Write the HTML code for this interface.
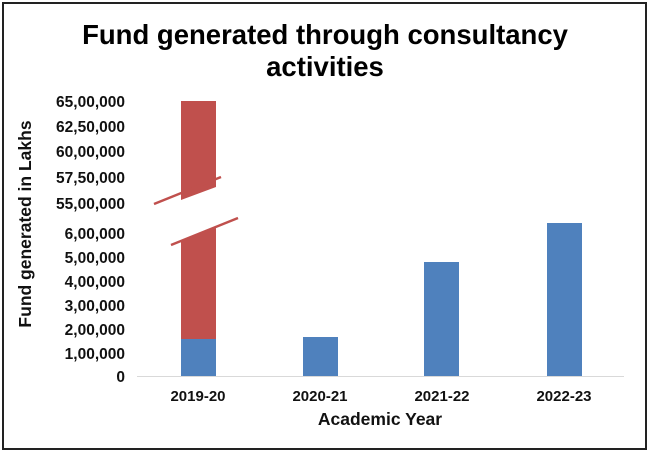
<!DOCTYPE html>
<html><head><meta charset="utf-8"><style>
html,body{margin:0;padding:0;background:#fff;}
svg{display:block;font-family:"Liberation Sans",Arial,sans-serif;font-weight:bold;}
</style></head><body>
<svg width="650" height="453" viewBox="0 0 650 453" xmlns="http://www.w3.org/2000/svg">
<rect x="0" y="0" width="650" height="453" fill="#fff"/>
<rect x="3" y="3" width="643" height="446" fill="none" stroke="#222" stroke-width="2"/>
<text x="325" y="44" font-size="27.5" text-anchor="middle" fill="#000">Fund generated through consultancy</text>
<text x="325" y="76" font-size="27.5" text-anchor="middle" fill="#000">activities</text>
<g font-size="15.5" text-anchor="end" fill="#111">
<text x="125" y="107">65,00,000</text>
<text x="125" y="132">62,50,000</text>
<text x="125" y="157">60,00,000</text>
<text x="125" y="183">57,50,000</text>
<text x="125" y="209">55,00,000</text>
<text x="125" y="239">6,00,000</text>
<text x="125" y="263">5,00,000</text>
<text x="125" y="287">4,00,000</text>
<text x="125" y="311">3,00,000</text>
<text x="125" y="335">2,00,000</text>
<text x="125" y="359">1,00,000</text>
<text x="125" y="382">0</text>
</g>
<text transform="translate(31,224) rotate(-90)" font-size="17.5" text-anchor="middle" fill="#111">Fund generated in Lakhs</text>
<line x1="137" y1="376.5" x2="624" y2="376.5" stroke="#d9d9d9" stroke-width="1"/>
<polygon points="181,101 216,101 216,187 181,200" fill="#c0504d"/>
<polygon points="181,241 216,228 216,339 181,339" fill="#c0504d"/>
<rect x="181" y="339" width="35" height="37" fill="#4f81bd"/>
<line x1="154" y1="204" x2="221" y2="177" stroke="#c0504d" stroke-width="2.5"/>
<line x1="171" y1="245" x2="238" y2="218" stroke="#c0504d" stroke-width="2.5"/>
<rect x="303" y="337" width="35" height="39" fill="#4f81bd"/>
<rect x="424" y="262" width="35" height="114" fill="#4f81bd"/>
<rect x="547" y="223" width="35" height="153" fill="#4f81bd"/>
<g font-size="15" text-anchor="middle" fill="#111">
<text x="198" y="401">2019-20</text>
<text x="320" y="401">2020-21</text>
<text x="442" y="401">2021-22</text>
<text x="564" y="401">2022-23</text>
</g>
<text x="380" y="425" font-size="17.5" text-anchor="middle" fill="#111">Academic Year</text>
</svg>
</body></html>
